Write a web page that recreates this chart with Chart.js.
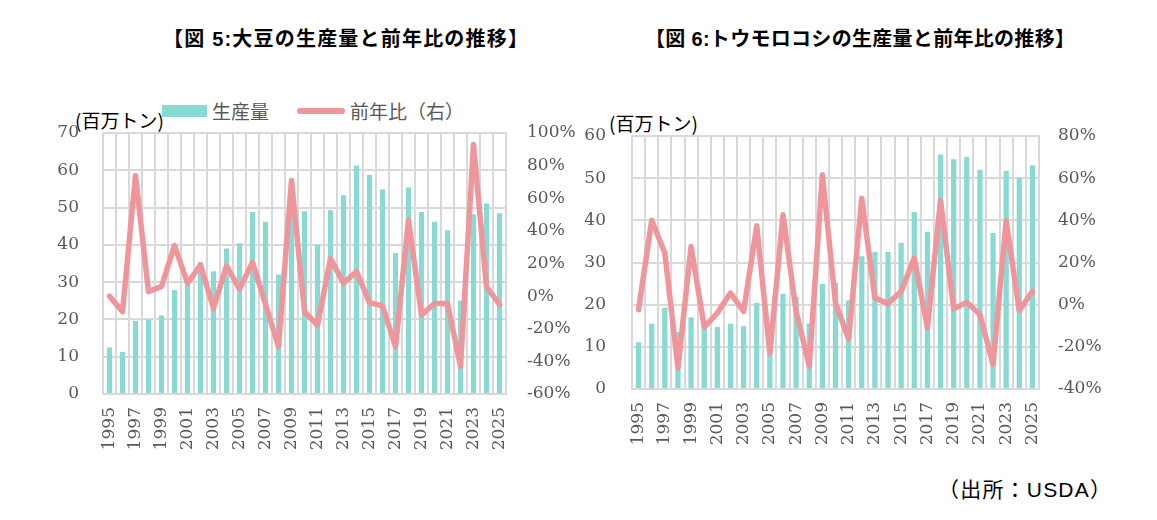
<!DOCTYPE html>
<html>
<head>
<meta charset="utf-8">
<script src="https://cdn.jsdelivr.net/npm/chart.js@4/dist/chart.umd.min.js"></script>
<style>
  html, body { margin: 0; padding: 0; background: #ffffff; }
  body { width: 1157px; height: 520px; position: relative; overflow: hidden; }
  .abs { position: absolute; white-space: nowrap; }
  .title { font-family: "Liberation Sans", "Noto Sans CJK JP", sans-serif; font-weight: bold; font-size: 20px; color: #000; top: 23px; }
  .unit { font-family: "Noto Sans CJK JP", sans-serif; font-size: 19px; color: #000; line-height: 1; }
  .leg { font-family: "Noto Sans CJK JP", sans-serif; font-size: 19px; color: #595959; line-height: 1; }
  .src { font-family: "Liberation Sans", "Noto Sans CJK JP", sans-serif; font-size: 21px; letter-spacing: 1.2px; color: #000; line-height: 1; }
  canvas { position: absolute; }
</style>
</head>
<body>
<div class="abs title" style="left:163px;letter-spacing:1.2px;">【図 5:大豆の生産量と前年比の推移】</div>
<div class="abs title" style="left:645px;letter-spacing:0.3px;">【図 6:トウモロコシの生産量と前年比の推移】</div>

<div class="abs" style="left:162px;top:105px;width:45px;height:12px;background:#88dad3;"></div>
<div class="abs leg" style="left:212px;top:101px;">生産量</div>
<div class="abs" style="left:297px;top:108px;width:48px;height:6px;border-radius:3px;background:#ef969c;"></div>
<div class="abs leg" style="left:350px;top:101px;">前年比（右）</div>

<div class="abs unit" style="left:75px;top:110px;">(百万トン)</div>
<div class="abs unit" style="left:609px;top:113px;">(百万トン)</div>

<div class="abs src" style="left:938px;top:479px;">（出所：USDA）</div>

<canvas id="c1" width="540" height="370" style="left:40px;top:90px;"></canvas>
<canvas id="c2" width="540" height="365" style="left:570px;top:90px;"></canvas>

<script>
const years = ['1995','1996','1997','1998','1999','2000','2001','2002','2003','2004','2005','2006','2007','2008','2009','2010','2011','2012','2013','2014','2015','2016','2017','2018','2019','2020','2021','2022','2023','2024','2025'];

const soyProd = [12.5, 11.3, 19.6, 20.0, 21.1, 27.9, 29.8, 35.4, 32.9, 39.0, 40.4, 48.8, 46.2, 32.0, 54.5, 49.0, 40.1, 49.3, 53.3, 61.3, 58.8, 54.9, 37.8, 55.4, 48.8, 46.2, 43.9, 25.1, 48.2, 51.1, 48.5];
const soyYoY  = [0, -9.6, 74, 2.7, 6, 31, 8, 19, -7.6, 18.6, 4.3, 20.8, -5, -31, 71, -9.6, -17.8, 23, 8, 15, -4, -6, -31, 46.6, -11.6, -4.5, -4.5, -43, 93, 5.7, -5];

const cornProd = [11.1, 15.5, 19.3, 13.5, 17.0, 15.2, 14.7, 15.5, 14.9, 20.4, 15.6, 22.6, 21.9, 15.5, 24.9, 25.2, 21.0, 31.5, 32.5, 32.5, 34.6, 42.0, 37.3, 55.6, 54.5, 55.0, 52.0, 37.0, 51.7, 50.1, 53.0];
const cornYoY  = [-2.4, 40, 24.5, -30, 27.6, -10.6, -4, 5.5, -3.2, 37.4, -23.2, 42.6, -3.2, -29.2, 61.6, 0.8, -16.3, 50.5, 3.2, 0.5, 6.3, 22.1, -11, 49.4, -2, 1.1, -4.7, -28.4, 39.8, -2.8, 6.3];

const soyLeftTicks  = {min: 0, max: 70, step: 10};
const soyRightTicks = {min: -60, max: 100, step: 20};
const cornLeftTicks  = {min: 0, max: 60, step: 10};
const cornRightTicks = {min: -40, max: 80, step: 20};

const BAR = '#88dad3';
const LINE = '#ef969c';
const GRID = '#d9d9d9';
const TXT = '#595959';

Chart.defaults.font.family = "'DejaVu Serif', serif";
Chart.defaults.font.size = 17;
Chart.defaults.color = TXT;

function makeChart(id, prod, yoy, lt, rt, lay) {
  return new Chart(document.getElementById(id), {
    data: {
      labels: years,
      datasets: [
        { type: 'line', label: '前年比（右）', data: yoy, yAxisID: 'y1', order: 0,
          borderColor: LINE, borderWidth: 5.5, pointRadius: 0, tension: 0, fill: false,
          borderJoinStyle: 'round', borderCapStyle: 'round' },
        { type: 'bar', label: '生産量', data: prod, yAxisID: 'y', order: 1,
          backgroundColor: BAR, borderWidth: 0, categoryPercentage: 1, barPercentage: 0.4 }
      ]
    },
    options: {
      responsive: false,
      animation: false,
      layout: { padding: { top: lay.top, left: 0, right: 0, bottom: 0 } },
      plugins: { legend: { display: false }, tooltip: { enabled: false } },
      scales: {
        x: {
          offset: true,
          grid: { display: true, color: GRID, lineWidth: 2, drawTicks: false, offset: true },
          border: { display: true, color: GRID, width: 2 },
          ticks: { autoSkip: false, minRotation: 90, maxRotation: 90, padding: 13,
            callback: function(v, i) { return i % 2 === 0 ? this.getLabelForValue(v) : ''; } },
          afterFit: s => { s.height = 66; }
        },
        y: {
          position: 'left', min: lt.min, max: lt.max,
          grid: { color: GRID, lineWidth: 2, drawTicks: false },
          border: { display: true, color: GRID, width: 2 },
          ticks: { stepSize: lt.step, padding: lay.lpad },
          afterFit: s => { s.width = lay.lw; }
        },
        y1: {
          position: 'right', min: rt.min, max: rt.max,
          grid: { display: false, drawTicks: false },
          border: { display: true, color: GRID, width: 2 },
          ticks: { stepSize: rt.step, padding: lay.rpad, callback: v => v + '%' },
          afterFit: s => { s.width = lay.rw; }
        }
      }
    }
  });
}

makeChart('c1', soyProd, soyYoY, soyLeftTicks, soyRightTicks, {top: 43, lw: 63, rw: 74, lpad: 24, rpad: 21});
makeChart('c2', cornProd, cornYoY, cornLeftTicks, cornRightTicks, {top: 46, lw: 62, rw: 71, lpad: 26, rpad: 19});
</script>
</body>
</html>
